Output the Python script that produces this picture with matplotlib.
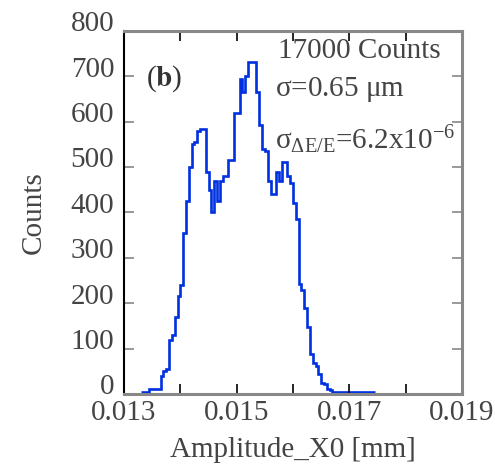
import numpy as np
import matplotlib
matplotlib.use("Agg")
import matplotlib.pyplot as plt
import matplotlib.transforms as mtransforms

# histogram of Amplitude_X0, bin width 0.00005 mm
bin_start = 0.0133
bin_width = 0.00005
counts = [5, 5, 5, 12, 12, 12, 12, 40, 50, 55,
          120, 130, 170, 215, 240, 355, 425, 500, 550, 555,
          580, 583, 583, 490, 450, 400, 470, 425, 470, 480,
          480, 515, 515, 620, 620, 695, 665, 700, 732, 732,
          732, 665, 592, 540, 535, 470, 440, 440, 490, 470,
          511, 511, 480, 464, 420, 385, 243, 230, 190, 147,
          88, 69, 62, 45, 25, 22, 12, 8, 5, 5,
          5, 5, 5, 5, 5, 5, 5, 5, 5, 5,
          5, 5, 5]

x_ticks = [0.013, 0.014, 0.015, 0.016, 0.017, 0.018, 0.019]
x_tick_labels = ["0.013", "", "0.015", "", "0.017", "", "0.019"]
y_ticks = [0, 100, 200, 300, 400, 500, 600, 700, 800]

plt.rcParams['font.family'] = ['Liberation Serif', 'DejaVu Serif']
plt.rcParams['mathtext.fontset'] = 'stix'
plt.rcParams['mathtext.default'] = 'regular'

fig = plt.figure(figsize=(4.95, 4.71), dpi=100)
ax = fig.add_axes([0.2505, 0.1635, 0.683, 0.7707])

edges = bin_start + bin_width * np.arange(len(counts) + 1)
ax.stairs(counts, edges, baseline=None, color='#0030e0', linewidth=1.9)

ax.set_xlim(0.013, 0.019)
ax.set_ylim(0, 800)
ax.set_xticks(x_ticks)
ax.set_xticklabels(x_tick_labels)
ax.set_yticks(y_ticks)

fs = 21
ax.tick_params(axis='x', direction='in', top=True, length=7.5, width=1.2,
               color='black', labelsize=fs, labelcolor='#444444', pad=4)
ax.tick_params(axis='y', direction='in', right=True, length=7.5, width=1.2,
               color='#888888', labelsize=fs, labelcolor='#444444', pad=7)

# y tick labels sit a little above their ticks in the original
shift = mtransforms.ScaledTranslation(0, 7 / 72, fig.dpi_scale_trans)
for lbl in ax.get_yticklabels():
    lbl.set_transform(lbl.get_transform() + shift)

ax.spines['left'].set_color('black')
ax.spines['left'].set_linewidth(1.5)
for side in ['top', 'bottom', 'right']:
    ax.spines[side].set_color('#888888')
    ax.spines[side].set_linewidth(2.2)

ax.set_xlabel('Amplitude_X0 [mm]', fontsize=fs, color='#444444', labelpad=8)
ax.set_ylabel('Counts', fontsize=fs, color='#444444', labelpad=17)

ax.text(0.12, 0.87, r'($\mathbf{b}$)', transform=ax.transAxes, fontsize=fs,
        color='#333333', ha='center', va='center')
ax.text(0.455, 0.945, '17000 Counts', transform=ax.transAxes, fontsize=fs,
        color='#444444', ha='left', va='center')
ax.text(0.447, 0.838, r'$\sigma$=0.65 $\mu$m', transform=ax.transAxes,
        fontsize=fs, color='#444444', ha='left', va='center')
ax.text(0.447, 0.70, r'$\sigma_{\Delta E/E}$=6.2x10$^{-6}$',
        transform=ax.transAxes, fontsize=fs, color='#444444',
        ha='left', va='center')

fig.savefig('out.png', dpi=100)
